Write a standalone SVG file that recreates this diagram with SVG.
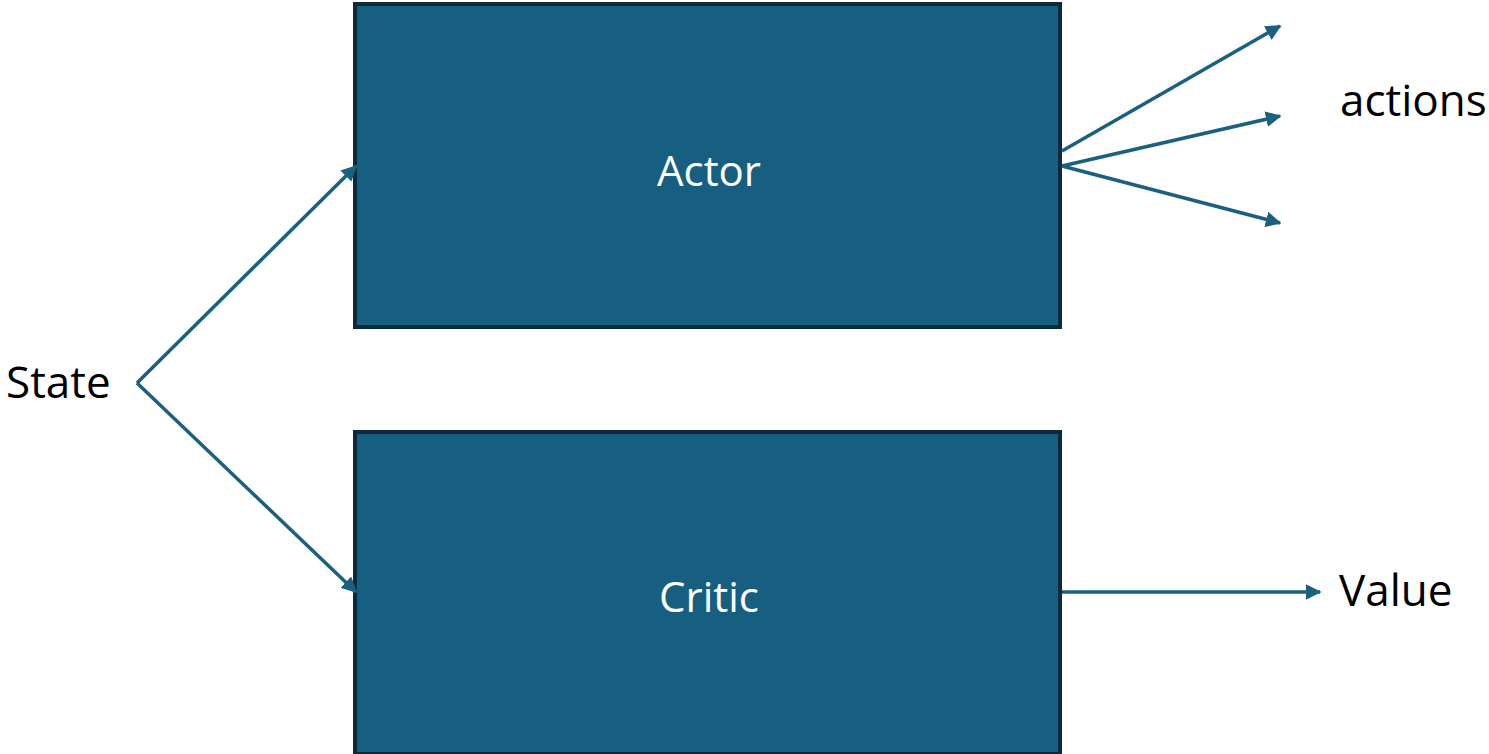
<svg xmlns="http://www.w3.org/2000/svg" width="1489" height="754" viewBox="0 0 1489 754">
  <style>
    .box { fill: #175f80; stroke: #0c2a3c; stroke-width: 4; }
    .boxlabel { fill: #ffffff; font-family: "Open Sans", "Noto Sans", sans-serif; font-size: 42px; text-anchor: middle; }
    .label { fill: #000000; font-family: "Open Sans", "Noto Sans", sans-serif; font-size: 44px; }
    .edge { stroke: #1a6080; stroke-width: 3.5; fill: none; marker-end: url(#arrow); }
  </style>
  <defs>
    <marker id="arrow" viewBox="0 0 10 10" refX="9" refY="5" markerWidth="4.5" markerHeight="4.5" orient="auto" markerUnits="strokeWidth">
      <path d="M0,0 L10,5 L0,10 Z" fill="#1a6080"/>
    </marker>
  </defs>

  <rect width="1489" height="754" fill="#ffffff"/>

  <g id="actor">
    <rect class="box" x="355" y="4" width="705" height="323"/>
    <text class="boxlabel" x="709" y="186">Actor</text>
  </g>

  <g id="critic">
    <rect class="box" x="355" y="432" width="705" height="322"/>
    <text class="boxlabel" x="709" y="612">Critic</text>
  </g>

  <g id="state">
    <text class="label" x="6" y="398">State</text>
  </g>

  <g id="actions">
    <text class="label" x="1340" y="116">actions</text>
  </g>

  <g id="value">
    <text class="label" x="1339" y="606">Value</text>
  </g>

  <g id="connectors">
    <path class="edge" d="M137,383 L356,166"/>
    <path class="edge" d="M137,383 L356,592"/>
    <path class="edge" d="M1062,151 L1280,26"/>
    <path class="edge" d="M1062,166 L1280,116"/>
    <path class="edge" d="M1062,166 L1280,223"/>
    <path class="edge" d="M1062,592 L1320,592"/>
  </g>
</svg>
